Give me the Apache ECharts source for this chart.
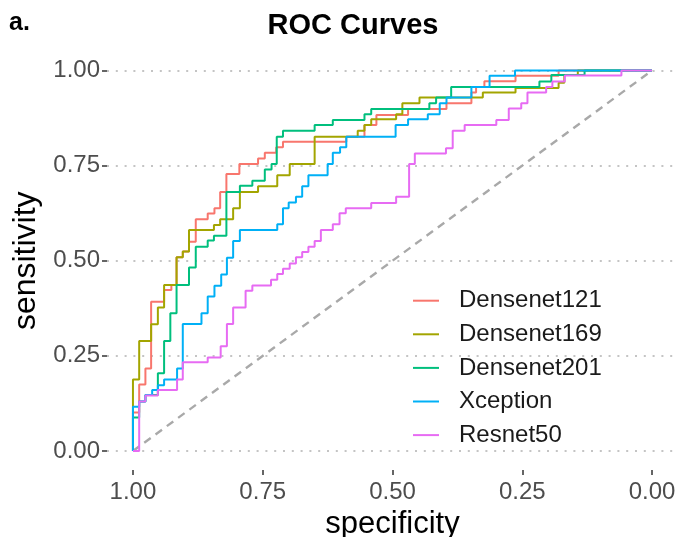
<!DOCTYPE html>
<html>
<head>
<meta charset="utf-8">
<script src="https://cdn.jsdelivr.net/npm/echarts@6/dist/echarts.min.js"></script>
<style>
html,body{margin:0;padding:0;background:#fff;}
#chart{width:680px;height:537px;}
</style>
</head>
<body>
<div id="chart"></div>
<script>
// ---- data: [specificity, sensitivity] ROC points ----
const modelNames = ['Densenet121', 'Densenet169', 'Densenet201', 'Xception', 'Resnet50'];
const modelColors = ['#F8766D', '#A3A500', '#00BF7D', '#00B0F6', '#E76BF3'];
const tickValues = [0, 0.25, 0.5, 0.75, 1];

const densenet121 = [[1,0],[0.988,0.101],[0.976,0.175],[0.965,0.217],[0.940,0.392],[0.926,0.423],[0.916,0.436],[0.904,0.509],[0.892,0.524],[0.879,0.550],[0.856,0.609],[0.843,0.624],[0.832,0.638],[0.820,0.681],[0.795,0.728],[0.759,0.754],[0.746,0.769],[0.724,0.784],[0.711,0.798],[0.589,0.813],[0.554,0.826],[0.531,0.857],[0.470,0.883],[0.396,0.899],[0.348,0.914],[0.339,0.942],[0.323,0.957],[0.263,0.972],[0.180,0.986],[0,1]];
const densenet169 = [[1,0],[0.988,0.188],[0.965,0.289],[0.952,0.333],[0.940,0.377],[0.916,0.436],[0.904,0.509],[0.892,0.524],[0.844,0.581],[0.832,0.594],[0.807,0.609],[0.794,0.638],[0.759,0.681],[0.722,0.696],[0.698,0.725],[0.650,0.754],[0.567,0.826],[0.554,0.842],[0.541,0.857],[0.493,0.872],[0.481,0.885],[0.448,0.914],[0.326,0.929],[0.263,0.942],[0.180,0.954],[0.169,0.968],[0.143,0.988],[0,1]];
const densenet201 = [[1,0],[0.988,0.088],[0.976,0.130],[0.952,0.147],[0.940,0.204],[0.928,0.289],[0.916,0.362],[0.892,0.436],[0.879,0.482],[0.856,0.537],[0.844,0.553],[0.820,0.566],[0.794,0.681],[0.770,0.697],[0.746,0.710],[0.733,0.740],[0.723,0.754],[0.711,0.826],[0.650,0.842],[0.615,0.857],[0.554,0.870],[0.541,0.885],[0.429,0.899],[0.416,0.914],[0.387,0.929],[0.217,0.957],[0.194,0.971],[0.130,0.988],[0,1]];
const xception = [[1,0],[0.988,0.116],[0.976,0.130],[0.963,0.147],[0.952,0.160],[0.940,0.173],[0.915,0.188],[0.904,0.217],[0.868,0.334],[0.856,0.362],[0.843,0.406],[0.830,0.434],[0.819,0.464],[0.807,0.508],[0.794,0.552],[0.722,0.581],[0.711,0.596],[0.700,0.638],[0.686,0.653],[0.674,0.668],[0.662,0.696],[0.625,0.725],[0.615,0.754],[0.601,0.784],[0.589,0.798],[0.494,0.826],[0.470,0.857],[0.432,0.872],[0.409,0.885],[0.396,0.914],[0.348,0.929],[0.313,0.957],[0.264,0.986],[0,1]];
const resnet50 = [[1,0],[0.988,0],[0.976,0.130],[0.952,0.146],[0.915,0.160],[0.904,0.188],[0.856,0.233],[0.831,0.246],[0.819,0.275],[0.807,0.334],[0.783,0.377],[0.770,0.421],[0.734,0.435],[0.722,0.450],[0.711,0.465],[0.698,0.479],[0.686,0.493],[0.674,0.509],[0.662,0.523],[0.650,0.537],[0.638,0.552],[0.615,0.581],[0.602,0.596],[0.590,0.625],[0.541,0.638],[0.493,0.652],[0.468,0.668],[0.457,0.754],[0.397,0.782],[0.384,0.796],[0.361,0.842],[0.300,0.857],[0.276,0.870],[0.252,0.900],[0.240,0.914],[0.204,0.942],[0.192,0.957],[0.168,0.971],[0.059,0.987],[0,1]];
const chanceLine = [[1,0],[0,1]];

const curves = [densenet121, densenet169, densenet201, xception, resnet50];
const FONT = 'Liberation Sans';

const chart = echarts.init(document.getElementById('chart'), null, {renderer: 'canvas'});

const series = [{
  name: 'chance',
  type: 'line',
  data: chanceLine,
  symbol: 'none',
  silent: true,
  lineStyle: {color: '#A9A9A9', width: 2.4, type: [8, 6]},
  z: 1
}];
curves.forEach((d, i) => {
  series.push({
    name: modelNames[i],
    type: 'line',
    data: d,
    step: 'start',
    symbol: 'none',
    lineStyle: {color: modelColors[i], width: 2},
    itemStyle: {color: modelColors[i]},
    z: 2 + i
  });
});

chart.setOption({
  animation: false,
  backgroundColor: '#ffffff',
  textStyle: {fontFamily: FONT},
  title: [
    {text: 'a.', left: 9, top: 11, padding: 0,
     textStyle: {fontFamily: FONT, fontWeight: 'bold', fontSize: 25, color: '#000'}},
    {text: 'ROC Curves', left: 353, top: 11, padding: 0, textAlign: 'center',
     textStyle: {fontFamily: FONT, fontWeight: 'bold', fontSize: 29, color: '#000'}}
  ],
  grid: {left: 107, right: 2, top: 51.5, bottom: 67, containLabel: false, outerBoundsMode: 'none'},
  legend: {
    orient: 'vertical',
    left: 413,
    top: 288.7,
    padding: 0,
    itemGap: 9.6,
    itemWidth: 26,
    itemHeight: 2,
    icon: 'rect',
    data: modelNames,
    textStyle: {fontFamily: FONT, fontSize: 24, color: '#1A1A1A', lineHeight: 24, padding: [0, 0, 0, 15]}
  },
  xAxis: {
    type: 'value',
    min: -0.05,
    max: 1.05,
    inverse: true,
    name: 'specificity',
    nameLocation: 'middle',
    nameGap: 33,
    nameTextStyle: {fontFamily: FONT, fontSize: 31, color: '#000'},
    axisLine: {show: false, onZero: false},
    axisTick: {show: true, customValues: tickValues, length: 5, lineStyle: {color: '#333333', width: 1.5}},
    axisLabel: {customValues: tickValues, margin: 10, fontFamily: FONT, fontSize: 24, color: '#4D4D4D',
      formatter: v => v.toFixed(2)},
    splitLine: {show: false}
  },
  yAxis: {
    type: 'value',
    min: -0.05,
    max: 1.05,
    name: 'sensitivity',
    nameLocation: 'middle',
    nameGap: 51,
    nameTextStyle: {fontFamily: FONT, fontSize: 32, color: '#000'},
    axisLine: {show: false, onZero: false},
    axisTick: {show: true, customValues: tickValues, length: 5, lineStyle: {color: '#333333', width: 1.5}},
    axisLabel: {customValues: tickValues, margin: 7, fontFamily: FONT, fontSize: 24, color: '#4D4D4D',
      formatter: v => v.toFixed(2)},
    splitLine: {show: true, lineStyle: {color: '#C4C4C4', width: 2, type: [2, 6.8]}}
  },
  series: series
});
</script>
</body>
</html>
